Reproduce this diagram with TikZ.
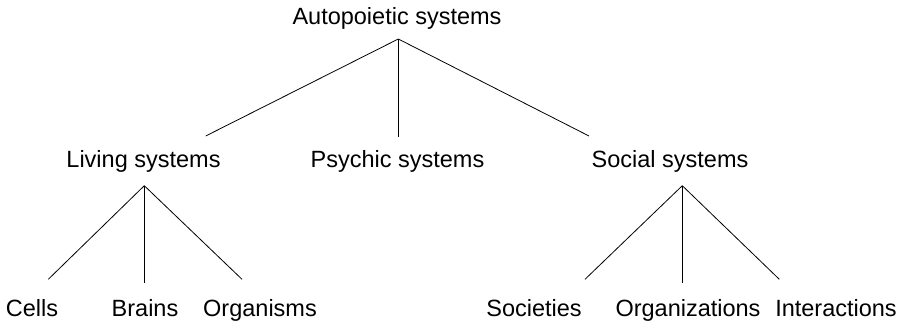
\documentclass[tikz,border=0pt]{standalone}
\usepackage{fontspec}
\setmainfont{Liberation Sans}
\usetikzlibrary{arrows}

\begin{document}
\begin{tikzpicture}[x=1pt,y=1pt,every node/.style={font=\fontsize{23.5}{28}\selectfont,anchor=base,inner sep=0pt}, branch/.style={line width=0.8pt}]

    \useasboundingbox (0,0) rectangle (904,324);

    %===========================
    % Labels
    %===========================
    \node (auto) at (397,299) {Autopoietic systems};

    \node (living) at (143.5,156) {Living systems};
    \node (psychic) at (397.5,156) {Psychic systems};
    \node (social) at (670,156) {Social systems};

    \node (cells) at (32,7.3) {Cells};
    \node (brains) at (145,7.3) {Brains};
    \node (organisms) at (260,7.3) {Organisms};

    \node (societies) at (534,7.3) {Societies};
    \node (organizations) at (688,7.3) {Organizations};
    \node (interactions) at (836,7.3) {Interactions};


    %===========================
    % Branches
    %===========================
    \coordinate (autoT) at (398.3,285);
    \coordinate (livingE) at (205.7,188);
    \coordinate (psychicE) at (398.3,187.3);
    \coordinate (socialE) at (589,188);
    \draw[branch] (autoT) -- (livingE);
    \draw[branch] (autoT) -- (psychicE);
    \draw[branch] (autoT) -- (socialE);

    % Left Side
    \coordinate (livingT) at (144.3,138.3);
    \coordinate (cellsE) at (48.3,44.7);
    \coordinate (brainsE) at (144.3,41);
    \coordinate (organismsE) at (242,44.7);
    \draw[branch] (livingT) -- (cellsE);
    \draw[branch] (livingT) -- (brainsE);
    \draw[branch] (livingT) -- (organismsE);

    % Right Side
    \coordinate (socialT) at (682.3,138.3);
    \coordinate (societiesE) at (585,44.7);
    \coordinate (organizationsE) at (682.3,41);
    \coordinate (interactionsE) at (779.3,44.7);
    \draw[branch] (socialT) -- (societiesE);
    \draw[branch] (socialT) -- (organizationsE);
    \draw[branch] (socialT) -- (interactionsE);
\end{tikzpicture}
\end{document}
